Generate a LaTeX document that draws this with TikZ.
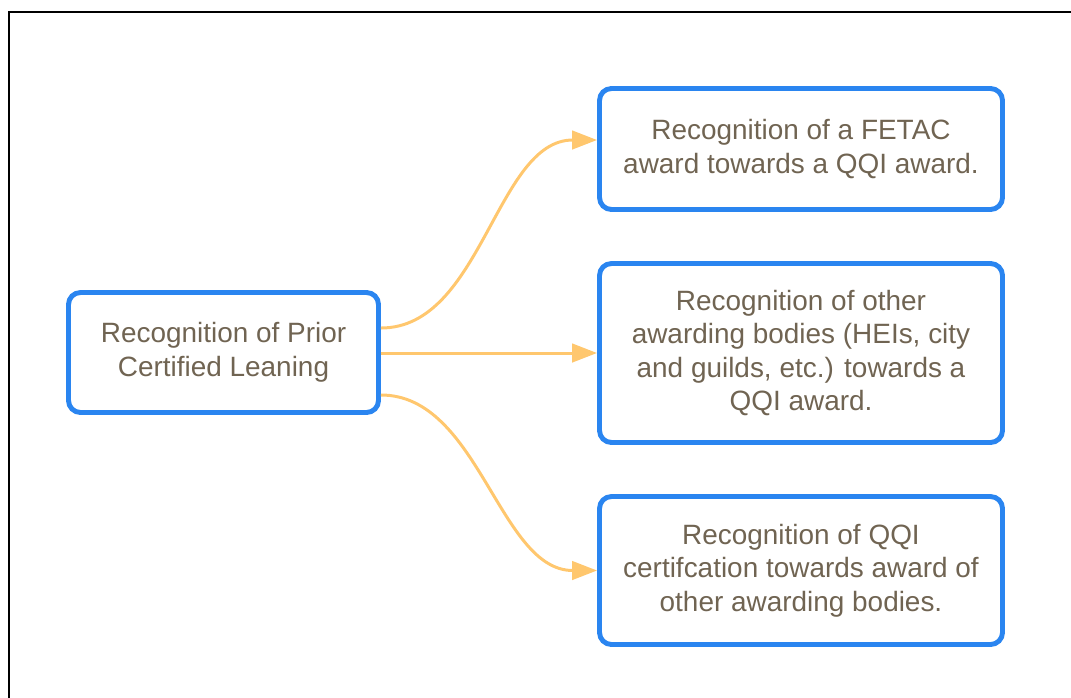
\documentclass[tikz,border=0pt]{standalone}
\usepackage{fontspec}
\setmainfont{Liberation Sans}
\usetikzlibrary{arrows.meta}
\definecolor{bleu}{RGB}{42,133,240}
\definecolor{orange}{RGB}{255,199,110}
\definecolor{brun}{RGB}{112,100,82}

\begin{document}
\begin{tikzpicture}[x=0.02cm,y=-0.02cm,font=\fontsize{15.9}{19.1}\selectfont,
	box/.style={draw=bleu, line width=2.8pt, rounded corners=0.24cm, text=brun, align=center, inner sep=0pt},
	link/.style={draw=orange, line width=1.7pt, -{Triangle[length=0.5cm,width=0.37cm]}}]
	\useasboundingbox		(0,0) rectangle (1071,697);
	\clip					(0,0) rectangle (1071,697);
	\draw[line width=1.3pt]	(9,720) -- (9,12) -- (1090,12);

	\node[box, minimum width=0.02cm*310, minimum height=0.02cm*120] (prior) at (223.5,352.5)
		{Recognition of Prior\\Certified Leaning};
	\node[box, minimum width=0.02cm*403, minimum height=0.02cm*121] (fetac) at (801,149)
		{Recognition of a FETAC\\award towards a QQI award.};
	\node[box, minimum width=0.02cm*403, minimum height=0.02cm*179] (other) at (801,353)
		{Recognition of other\\awarding bodies (HEIs, city\\and guilds, etc.) towards a\\QQI award.};
	\node[box, minimum width=0.02cm*403, minimum height=0.02cm*148] (qqi) at (801,570.5)
		{Recognition of QQI\\certifcation towards award of\\other awarding bodies.};

	\draw[link]		([yshift=0.49cm]prior.east) to[out=0, in=180, looseness=0.9] ([yshift=0.18cm]fetac.west);
	\draw[link]		(prior.east |- other.west) -- (other.west);
	\draw[link]		([yshift=-0.85cm]prior.east) to[out=0, in=180, looseness=0.9] (qqi.west);
\end{tikzpicture}
\end{document}
